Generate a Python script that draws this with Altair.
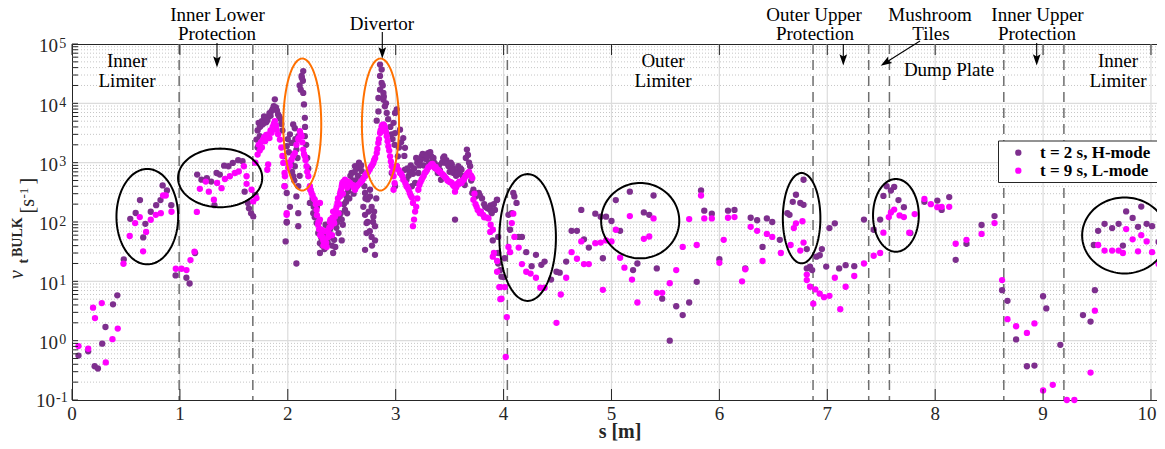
import math
import numpy as np
import pandas as pd
import altair as alt

SERIF = "Liberation Serif"
PURPLE = "#7E2F8E"
MAGENTA = "#FF00FF"
AXIS_COL = "#262626"

# ---------------- data ----------------
H_S = [0.06, 0.15, 0.21, 0.24, 0.28, 0.31, 0.38, 0.42, 0.48, 0.54, 0.59, 0.63, 0.66, 0.68, 0.73, 0.78, 0.82, 0.84, 0.88, 0.92,
       0.96, 1.06, 1.09, 1.14, 1.16, 1.20, 1.25, 1.29, 1.32, 1.34, 1.37, 1.41, 1.45, 1.49, 1.54, 1.58, 1.60, 1.63, 1.64, 1.66,
       1.68, 1.70, 1.71, 1.73, 1.75, 1.76, 1.79, 1.80, 1.82, 1.84, 1.85, 1.87, 1.88, 1.89, 1.91, 1.93, 1.94, 1.97, 1.99, 1.99,
       1.98, 1.96, 1.99, 2.02, 2.035, 2.05, 2.05, 2.065, 2.065, 2.08, 2.08, 2.08, 2.097, 2.097, 2.097, 2.097, 2.12, 2.128, 2.13, 2.143,
       2.143, 2.15, 2.158, 2.158, 2.02, 1.99,
       2.205, 2.236, 2.25, 2.267, 2.27, 2.282, 2.298, 2.298, 2.30, 2.33, 2.35, 2.36, 2.39, 2.40, 2.42, 2.44, 2.45, 2.47, 2.48, 2.50,
       2.50, 2.52, 2.53, 2.545, 2.55, 2.56, 2.576, 2.592, 2.60, 2.61, 2.623, 2.64, 2.65, 2.67, 2.685, 2.69, 2.70, 2.716, 2.716, 2.716,
       2.73, 2.73, 2.74, 2.75, 2.762, 2.762, 2.777, 2.777, 2.79, 2.793, 2.808, 2.808, 2.808,
       2.824, 2.84, 2.84, 2.855, 2.855, 2.855, 2.87, 2.87, 2.88, 2.886, 2.886, 2.89, 2.90, 2.91, 2.917, 2.93, 2.95, 2.96, 2.963, 2.97,
       2.98, 2.99, 2.994, 2.994, 2.994, 3.01, 3.01, 3.02, 3.03, 3.04, 3.07, 3.086, 3.086, 3.10, 3.12, 3.14, 3.15, 3.18, 3.20, 3.21,
       3.23, 3.24, 3.26, 3.27, 3.28, 3.30, 3.31, 3.33, 3.34, 3.36, 3.37, 3.39, 3.40, 3.42, 3.43, 3.45, 3.47, 3.49, 3.50, 3.52,
       3.53, 3.535, 3.55, 3.56, 3.58, 3.59, 3.61, 3.63, 3.64, 3.66, 3.67, 3.69, 3.71, 3.74, 3.77, 3.80, 3.83, 3.876, 3.94, 3.90,
       3.95, 3.97, 4.00,
       # extra points of the dense divertor band
       1.72, 1.74, 1.77, 1.78, 1.81, 1.83, 1.86, 1.90, 1.92, 1.95, 1.72, 1.74,
       2.00, 2.01, 2.03, 2.04, 2.06, 2.07, 2.09, 2.11, 2.11, 2.14, 2.16, 2.17, 2.18, 2.19, 2.21, 2.23,
       2.24, 2.26, 2.29, 2.31, 2.32, 2.34, 2.37, 2.38, 2.41, 2.43, 2.46, 2.49, 2.51, 2.54, 2.57, 2.58, 2.62, 2.63, 2.66, 2.68,
       2.71, 2.72, 2.74, 2.76, 2.78, 2.80, 2.82,
       3.05, 3.08, 3.11, 3.13, 3.16, 3.17, 3.19, 3.22, 3.25, 3.29, 3.32, 3.35, 3.38, 3.41, 3.44, 3.46, 3.48, 3.51, 3.54, 3.57,
       3.60, 3.62, 3.65, 3.68, 3.70, 3.72, 3.75, 3.78, 3.82, 3.85, 3.88, 3.91,
       # outer wall
       3.937, 3.92, 3.89, 3.95, 3.95, 3.98, 4.01, 4.045, 4.09, 4.10, 4.12, 4.076, 4.06, 4.14, 4.17, 4.21, 4.26, 4.30, 4.35, 4.38,
       4.44, 4.49, 4.52, 4.58, 4.63, 4.68, 4.72, 4.745, 4.79, 4.85, 4.90, 4.92, 4.95, 5.00, 5.04, 5.08, 5.17, 5.20, 5.24, 5.30,
       5.35, 5.39, 5.42, 5.47, 5.54, 5.60, 5.66, 5.72, 5.79, 5.83, 5.86, 5.93, 6.00,
       6.08, 6.14, 6.24, 6.29, 6.35, 6.40, 6.44, 6.49, 6.56, 6.63, 6.65, 6.68, 6.71, 6.75, 6.78, 6.78, 6.81, 6.81, 6.84, 6.86,
       6.90, 6.93, 6.95, 6.99, 7.02, 7.07, 7.11, 7.17, 7.25, 7.34, 7.43, 7.49, 7.52, 7.55, 7.59, 7.62, 7.66, 7.71, 7.77, 7.90,
       8.02, 8.06, 8.13, 8.19, 8.29, 8.43, 8.55, 8.62, 8.67, 8.75, 8.85, 8.92, 9.00, 9.03, 9.16, 9.37, 9.44, 9.48, 9.47, 9.51,
       9.57, 9.64, 9.70, 9.74, 9.77, 9.83, 9.88, 9.91, 9.96, 10.01, 10.07, 10.12]
H_V = [0.56, 0.66, 0.37, 0.34, 0.89, 1.7, 4.1, 5.8, 23.5, 113, 142, 234, 55, 93, 149, 192, 234, 414, 340, 192,
       12.6, 11.5, 9.2, 30, 630, 517, 550, 480, 192, 670, 630, 890, 870, 990, 1100, 1060, 325, 209, 170, 140,
       124, 287, 2450, 4700, 4200, 5000, 5300, 4800, 5900, 6200, 7400, 9000, 11700, 8500, 6500, 5500, 4500, 400, 308, 98,
       47, 1280, 1900, 3000, 2150, 4400, 590, 3800, 870, 1660, 270, 20, 2800, 400, 141, 85, 17000, 29000, 27000, 35000,
       15000, 9600, 5700, 2800, 180, 100,
       210, 141, 120, 96, 180, 65, 44, 30, 75, 60, 90, 49, 74, 55, 30, 38, 80, 65, 120, 49,
       110, 200, 160, 270, 140, 330, 400, 670, 500, 300, 870, 800, 600, 870, 720, 550, 180, 308, 132, 34,
       96, 65, 240, 150, 270, 350, 180, 56, 100, 123, 85, 49, 28,
       5100, 12300, 7300, 45000, 29000, 17000, 37000, 22000, 20000, 15000, 11500, 13000, 8900, 10000, 6900, 5400, 4000, 3000, 670, 2500,
       4700, 2000, 6900, 3150, 400, 7900, 870, 1280, 1800, 3600, 2600, 1780, 760, 515, 600, 900, 400, 455, 1000, 670,
       1100, 1280, 900, 1350, 1150, 1450, 1000, 1280, 1100, 990, 800, 670, 900, 515, 1000, 1280, 1100, 870, 700, 930,
       800, 670, 110, 600, 870, 650, 760, 500, 420, 1660, 1350, 870, 308, 270, 308, 250, 180, 160, 237, 49,
       30, 15.5, 11.8,
       3500, 4000, 4500, 6000, 5200, 6800, 8000, 7500, 6000, 3500, 1800, 2800,
       2500, 1500, 1000, 700, 500, 2500, 1200, 600, 20000, 24000, 4000, 2000, 1200, 800, 350, 250,
       180, 130, 100, 55, 40, 35, 45, 60, 40, 50, 100, 140, 90, 220, 250, 600, 700, 500, 1000, 900,
       400, 250, 100, 70, 40, 150, 250,
       2200, 1300, 800, 700, 650, 800, 1200, 900, 1400, 1300, 1500, 1200, 850, 750, 1200, 1000, 950, 1000, 750, 700,
       800, 600, 1200, 1000, 500, 350, 300, 280, 200, 170, 190, 200,
       234, 160, 141, 56, 20, 12, 24.5, 132, 308, 270, 210, 141, 74, 56, 56, 31, 18, 28, 19, 21.5,
       10.7, 14.5, 14, 21.5, 71, 71, 160, 51, 37, 138, 123, 24.5, 123, 104, 234, 71, 325, 15.5, 20, 145,
       132, 280, 16.5, 5.1, 1.0, 3.8, 2.7, 4.4, 9.8, 340, 155, 138, 23.6,
       155, 160, 16.5, 118, 107, 38, 115, 100, 50, 141, 132, 219, 288, 209, 195, 515, 35, 16.5, 17.7, 15.5,
       26, 27.5, 35, 17.7, 79, 95, 16.5, 18.7, 18, 110, 74, 110, 275, 400, 340, 390, 234, 178, 65, 219,
       230, 160, 263, 23, 43, 89, 126, 7.1, 4.7, 1.05, 0.37, 0.38, 5.6, 3.5, 0.85, 2.7, 2.1, 7.1, 41, 71,
       93, 79, 93, 40, 151, 117, 83, 182, 93, 85, 46, 2.1]

L_S = [0.06, 0.15, 0.195, 0.213, 0.276, 0.313, 0.375, 0.424, 0.477, 0.535, 0.585, 0.628, 0.659, 0.687, 0.73, 0.777, 0.823, 0.844, 0.869, 0.922,
       0.962, 1.015, 1.061, 1.098, 1.135, 1.157, 1.185, 1.24, 1.268, 1.315, 1.345, 1.386, 1.417, 1.463, 1.51, 1.546, 1.593, 1.618, 1.618, 1.664,
       1.68, 1.71, 1.72, 1.73, 1.77, 1.80, 1.818, 1.81, 1.85, 1.88, 1.896, 1.927, 1.958, 1.973, 1.989,
       1.97, 1.97, 1.99, 2.004, 2.035, 2.065, 2.097, 2.112, 2.128, 2.143, 2.158, 2.174, 2.19, 2.205, 2.22, 2.25, 2.298,
       2.267, 2.28, 2.298, 2.31, 2.313, 2.329, 2.34, 2.35, 2.36, 2.375, 2.38, 2.39, 2.40, 2.41, 2.42, 2.43, 2.437, 2.452, 2.46, 2.47,
       2.483, 2.49, 2.50, 2.51, 2.52, 2.53, 2.55, 2.576, 2.60, 2.623, 2.64, 2.67, 2.69, 2.716, 2.73, 2.747, 2.77, 2.793, 2.81, 2.824,
       2.839, 2.855, 2.87, 2.886, 2.90, 2.917, 2.932, 2.948, 2.963, 2.98, 2.98, 3.01, 3.04, 3.06, 3.07, 3.09, 3.10, 3.12, 3.13, 3.15,
       3.16, 3.17, 3.16, 3.19, 3.21, 3.22, 3.24, 3.26, 3.27, 3.29, 3.30, 3.32, 3.33, 3.35, 3.36, 3.38, 3.39, 3.41, 3.42, 3.44,
       3.45, 3.47, 3.49, 3.50, 3.52, 3.54, 3.55, 3.58, 3.61, 3.63, 3.65, 3.67, 3.69, 3.71, 3.72, 3.75, 3.78, 3.81, 3.86, 3.876,
       3.90, 3.90, 3.94, 3.97, 3.97, 4.03, 4.02,
       # extra points of the dense divertor band
       1.70, 1.74, 1.75, 1.76, 1.78, 1.79, 1.82, 1.83, 1.84, 1.86, 1.87, 1.89, 1.91, 1.94, 1.95,
       2.01, 2.02, 2.05, 2.08, 2.10, 2.12, 2.135, 2.15, 2.165, 2.18, 2.21, 2.23, 2.24, 2.26, 2.27,
       2.285, 2.29, 2.30, 2.32, 2.33, 2.345, 2.355, 2.37, 2.385, 2.395, 2.405, 2.415, 2.425, 2.445, 2.455, 2.465, 2.475, 2.485, 2.495, 2.505,
       2.515, 2.535, 2.545, 2.56, 2.585, 2.61, 2.63, 2.65, 2.68, 2.70, 2.72, 2.74, 2.76, 2.78, 2.80, 2.83, 2.845, 2.86, 2.875, 2.895,
       2.91, 2.925, 2.94, 2.955, 2.97, 2.99, 3.00, 3.03, 3.05,
       3.11, 3.14, 3.18, 3.20, 3.23, 3.25, 3.28, 3.31, 3.34, 3.37, 3.40, 3.43, 3.46, 3.48, 3.51, 3.53, 3.56, 3.57, 3.59, 3.60,
       3.62, 3.64, 3.66, 3.68, 3.70, 3.73, 3.74, 3.76, 3.79, 3.82, 3.84, 3.88,
       # outer wall
       3.91, 3.94, 3.96, 3.98, 4.01, 4.045, 4.06, 4.076, 4.09, 4.10, 4.14, 4.17, 4.21, 4.25, 4.30, 4.34, 4.38, 4.49, 4.53, 4.58,
       4.63, 4.68, 4.72, 4.745, 4.79, 4.85, 4.90, 4.92, 4.95, 5.00, 5.04, 5.08, 5.12, 5.17, 5.19, 5.24, 5.30, 5.35, 5.39, 5.42,
       5.47, 5.54, 5.60, 5.66, 5.72, 5.79, 5.83, 5.86, 5.93, 6.00,
       6.04, 6.08, 6.14, 6.21, 6.24, 6.29, 6.35, 6.40, 6.44, 6.49, 6.57, 6.66, 6.69, 6.71, 6.77, 6.78, 6.75, 6.81, 6.81, 6.84,
       6.89, 6.93, 6.97, 7.02, 6.87, 7.07, 7.12, 7.17, 7.25, 7.34, 7.43, 7.49, 7.52, 7.57, 7.59, 7.62, 7.67, 7.71, 7.76, 7.81,
       7.90, 7.96, 8.02, 8.06, 8.13, 8.19, 8.29, 8.43, 8.55, 8.62, 8.67, 8.75, 8.85, 8.92, 9.00, 9.09, 9.22, 9.29, 9.44, 9.48,
       9.51, 9.57, 9.64, 9.70, 9.74, 9.77, 9.83, 9.88, 9.91, 9.96, 10.01, 10.07, 10.12]
L_V = [0.81, 0.73, 3.6, 2.4, 4.3, 0.43, 1.06, 1.6, 19.8, 58, 96, 121, 32, 68, 109, 132, 141, 280, 280, 149,
       16.3, 16.3, 15.5, 22.8, 31.6, 148, 362, 480, 325, 237, 455, 372, 530, 590, 670, 710, 870, 590, 440, 350,
       222, 253, 1370, 2000, 2450, 2950, 930, 760, 3200, 5000, 3600, 2450, 990, 590, 132,
       670, 400, 141, 820, 1120, 1450, 2450, 3390, 2800, 1660, 1280, 870, 590, 400, 308, 237, 210,
       160, 90, 110, 60, 74, 49, 45, 70, 38, 56, 65, 100, 85, 60, 150, 95, 123, 180, 210, 140,
       270, 330, 400, 300, 420, 515, 380, 455, 420, 350, 400, 455, 500, 590, 650, 720, 850, 990, 1200, 1450,
       2150, 3150, 4100, 4400, 3800, 2800, 1900, 1280, 870, 590, 350, 870, 670, 600, 515, 450, 400, 350, 308, 260,
       210, 110, 85, 180, 350, 420, 515, 600, 670, 750, 820, 880, 930, 900, 820, 780, 760, 700, 670, 620,
       590, 540, 490, 470, 455, 400, 325, 430, 455, 515, 600, 670, 620, 550, 237, 180, 141, 132, 115, 68,
       74, 26, 22, 8, 5, 2.5, 0.53,
       1000, 1600, 2200, 1800, 2700, 2300, 3000, 2600, 3500, 4000, 4500, 4200, 3000, 1800, 1300,
       1000, 900, 1300, 2000, 2600, 3000, 2200, 1400, 1100, 700, 350, 280, 250, 200, 130,
       100, 75, 60, 55, 40, 50, 45, 70, 80, 110, 95, 120, 100, 160, 140, 250, 200, 300, 350, 450,
       480, 450, 420, 480, 430, 380, 380, 420, 480, 540, 620, 680, 780, 900, 1100, 1700, 2500, 3500, 4300, 4200,
       3300, 2300, 1600, 1050, 700, 450, 800, 750, 650,
       380, 280, 150, 250, 470, 560, 700, 850, 950, 850, 720, 640, 560, 500, 470, 420, 380, 440, 480, 460,
       500, 560, 640, 700, 600, 300, 200, 160, 150, 120, 120, 90,
       30, 14.5, 8, 5.1, 8, 38, 31, 96, 138, 56, 37, 19.5, 14.5, 13.5, 11.5, 7.8, 7.8, 2.0, 6.0, 11.5,
       31, 24, 47, 19.5, 19.5, 44, 45, 7.2, 49, 47, 74, 25, 17, 126, 10.7, 4.4, 52, 57, 115, 6.4,
       6.4, 9.3, 15.5, 38, 112, 41, 280, 115, 115, 20.5,
       50, 118, 121, 10, 16, 83, 71, 22, 63, 56, 30, 41, 79, 95, 103, 45, 33, 10.5, 13, 8.1,
       7.3, 6.2, 5.4, 5.7, 4.2, 11.5, 3.4, 8.1, 12.3, 20, 27, 30, 66, 121, 145, 162, 129, 121, 66, 136,
       245, 200, 178, 180, 180, 43, 50, 63, 96, 10.5, 2.3, 1.75, 1.35, 1.95, 0.145, 0.18, 0.1, 0.1, 0.29, 3.2,
       41, 33, 33, 33, 30, 76, 51, 32, 60, 47, 31, 19.5, 2.9]

# region boundaries (dashed lines), s [m]
BOUNDARIES = [0.993, 1.676, 4.035, 6.868, 7.384, 7.576, 8.636, 9.193]

# highlight ellipses: centre s, centre log10(v), half-width in s, half-height in decades, colour
ELL_S = [0.698, 1.373, 2.134, 2.859, 4.223, 5.266, 6.762, 7.636, 9.756]
ELL_LOGV = [2.09, 2.743, 3.643, 3.643, 1.739, 2.022, 2.064, 2.112, 1.773]
ELL_RS = [0.286, 0.39, 0.176, 0.172, 0.262, 0.362, 0.174, 0.212, 0.394]
ELL_RLOG = [0.804, 0.494, 1.112, 1.112, 1.069, 0.635, 0.761, 0.613, 0.64]
ELL_COLOR = ["black", "black", "#FF7000", "#FF7000", "black", "black", "black", "black", "black"]

X_TICKS = list(range(0, 11))
Y_EXPONENTS = [-1, 0, 1, 2, 3, 4, 5]

LEGEND_LABELS = ["t = 2 s, H-mode", "t = 9 s, L-mode"]

# ---------------- layout ----------------
W, H = 1093, 356
OX, OY = 72, 44          # page position of the plot origin (8px page margin + padding)
S_MAX = 10.13
PT = 40

x_scale = alt.Scale(domain=[0, S_MAX], nice=False, zero=False)
y_scale = alt.Scale(type="log", domain=[0.1, 1e5], nice=False)


def XE(f="s"):
    return alt.X(f"{f}:Q", scale=x_scale, axis=None)


def YE(f="v"):
    return alt.Y(f"{f}:Q", scale=y_scale, axis=None)


DUMMY = pd.DataFrame({"d": [0]})


def ptext(text, px, py, size=19, weight="normal", align="center", angle=0, style="normal", color="black"):
    return alt.Chart(DUMMY).mark_text(
        text=text, font=SERIF, fontSize=size, fontWeight=weight, fontStyle=style,
        align=align, baseline="alphabetic", angle=angle, color=color
    ).encode(x=alt.value(px - OX), y=alt.value(py - OY))


layers = []

# grid
minor_y = [m * 10.0 ** k for k in range(-1, 5) for m in range(2, 10)]
layers.append(alt.Chart(pd.DataFrame({"v": minor_y})).mark_rule(
    color="#b8b8b8", strokeDash=[1, 2], strokeWidth=0.8).encode(y=YE(), x=alt.value(0), x2=alt.value(W)))
layers.append(alt.Chart(pd.DataFrame({"v": [10.0 ** k for k in range(0, 5)]})).mark_rule(
    color="#dcdcdc", strokeWidth=1.2).encode(y=YE(), x=alt.value(0), x2=alt.value(W)))
layers.append(alt.Chart(pd.DataFrame({"s": X_TICKS[1:]})).mark_rule(
    color="#dcdcdc", strokeWidth=1.2).encode(x=XE(), y=alt.value(0), y2=alt.value(H)))

# dashed region boundaries
layers.append(alt.Chart(pd.DataFrame({"s": BOUNDARIES})).mark_rule(
    color="#6e6e6e", strokeDash=[10, 6], strokeWidth=1.5).encode(x=XE(), y=alt.value(0), y2=alt.value(H)))

# data points
layers.append(alt.Chart(pd.DataFrame({"s": H_S, "v": H_V})).mark_circle(
    size=PT, opacity=1, color=PURPLE).encode(x=XE(), y=YE()))
layers.append(alt.Chart(pd.DataFrame({"s": L_S, "v": L_V})).mark_circle(
    size=PT, opacity=1, color=MAGENTA).encode(x=XE(), y=YE()))

# ellipses
tt = np.linspace(0, 2 * np.pi, 121)
rows = []
for k, (cs, cl, rs, rl, col) in enumerate(zip(ELL_S, ELL_LOGV, ELL_RS, ELL_RLOG, ELL_COLOR)):
    for i, t in enumerate(tt):
        rows.append({"id": k, "i": i, "s": cs + rs * math.cos(t), "v": 10 ** (cl + rl * math.sin(t)), "col": col})
layers.append(alt.Chart(pd.DataFrame(rows)).mark_line(strokeWidth=2, clip=True).encode(
    x=XE(), y=YE(), detail="id:N", order="i:Q", color=alt.Color("col:N", scale=None)))

# ticks (inward, MATLAB style)
xt = pd.DataFrame({"s": X_TICKS})
layers.append(alt.Chart(xt).mark_rule(color=AXIS_COL, strokeWidth=1).encode(x=XE(), y=alt.value(H), y2=alt.value(H - 11)))
layers.append(alt.Chart(xt).mark_rule(color=AXIS_COL, strokeWidth=1).encode(x=XE(), y=alt.value(0), y2=alt.value(11)))
yt = pd.DataFrame({"v": [10.0 ** e for e in Y_EXPONENTS] + minor_y})
layers.append(alt.Chart(yt).mark_rule(color=AXIS_COL, strokeWidth=1).encode(y=YE(), x=alt.value(0), x2=alt.value(6)))
layers.append(alt.Chart(yt).mark_rule(color=AXIS_COL, strokeWidth=1).encode(y=YE(), x=alt.value(W - 6), x2=alt.value(W)))

# x tick labels (the last one nudged so it stays inside the page)
xl = pd.DataFrame({"s": X_TICKS[:-1], "t": [str(v) for v in X_TICKS[:-1]]})
layers.append(alt.Chart(xl).mark_text(
    font=SERIF, fontSize=19, color=AXIS_COL, baseline="alphabetic", align="center").encode(
    x=XE(), y=alt.value(H + 20), text="t:N"))
xl_last = pd.DataFrame({"s": X_TICKS[-1:], "t": [str(v) for v in X_TICKS[-1:]]})
layers.append(alt.Chart(xl_last).mark_text(
    font=SERIF, fontSize=19, color=AXIS_COL, baseline="alphabetic", align="center", dx=-4).encode(
    x=XE(), y=alt.value(H + 20), text="t:N"))

# y tick labels 10^k
pos = [e for e in Y_EXPONENTS if e >= 0]
neg = [e for e in Y_EXPONENTS if e < 0]
dpos = pd.DataFrame({"v": [10.0 ** e for e in pos], "b": ["10"] * len(pos), "e": [str(e) for e in pos]})
dneg = pd.DataFrame({"v": [10.0 ** e for e in neg], "b": ["10"] * len(neg), "e": [str(e) for e in neg]})
layers.append(alt.Chart(dpos).mark_text(font=SERIF, fontSize=19, color=AXIS_COL, align="right", baseline="alphabetic", dy=8.3)
              .encode(y=YE(), x=alt.value(-14), text="b:N"))
layers.append(alt.Chart(dpos).mark_text(font=SERIF, fontSize=14, color=AXIS_COL, align="left", baseline="alphabetic", dy=3.5)
              .encode(y=YE(), x=alt.value(-12.8), text="e:N"))
layers.append(alt.Chart(dneg).mark_text(font=SERIF, fontSize=19, color=AXIS_COL, align="right", baseline="alphabetic", dy=6.5)
              .encode(y=YE(), x=alt.value(-17), text="b:N"))
layers.append(alt.Chart(dneg).mark_text(font=SERIF, fontSize=14, color=AXIS_COL, align="left", baseline="alphabetic", dy=1.5)
              .encode(y=YE(), x=alt.value(-16), text="e:N"))

# axis titles
layers.append(ptext("s [m]", 620, 438, size=20, weight="bold", color=AXIS_COL))
layers.append(ptext("\u03bd", 22.5, 279, size=20, style="italic", align="left", angle=270, color=AXIS_COL))
layers.append(ptext("t", 28, 263.5, size=14, weight="bold", align="left", angle=270, color=AXIS_COL))
layers.append(ptext("BULK", 22, 257, size=14, weight="bold", align="left", angle=270, color=AXIS_COL))
layers.append(ptext("[s", 33.5, 213.5, size=20, align="left", angle=270, color=AXIS_COL))
layers.append(ptext("-1", 27.5, 198.5, size=13, align="left", angle=270, color=AXIS_COL))
layers.append(ptext("]", 33.5, 184.5, size=20, align="left", angle=270, color=AXIS_COL))

# region labels
REGION_TEXT = [("Inner", 127, 67), ("Limiter", 127, 87),
               ("Inner Lower", 217.5, 20.5), ("Protection", 217, 40),
               ("Divertor", 382, 30),
               ("Outer", 663, 67), ("Limiter", 663, 87),
               ("Outer Upper", 814, 20.5), ("Protection", 815, 40),
               ("Mushroom", 930, 20.5), ("Tiles", 931, 40),
               ("Dump Plate", 949, 76),
               ("Inner Upper", 1037.5, 20.5), ("Protection", 1037, 40),
               ("Inner", 1118, 67), ("Limiter", 1118, 87)]
for txt, px, py in REGION_TEXT:
    layers.append(ptext(txt, px, py))

# arrows
ARROWS = [(217, 43, 217, 67.5), (382.3, 32, 382.3, 58.5), (843.3, 44, 843.3, 65.5),
          (920, 41, 880.7, 65.7), (1036.7, 43, 1036.7, 65.5)]
HEAD = "M0,1L-0.55,-0.6L0,-0.3L0.55,-0.6Z"
R = 7.0
for x0, y0, x1, y1 in ARROWS:
    dx, dy = x1 - x0, y1 - y0
    L = math.hypot(dx, dy)
    ux, uy = dx / L, dy / L
    ang = (math.degrees(math.atan2(dy, dx)) - 90) % 360
    layers.append(alt.Chart(DUMMY).mark_rule(color="black", strokeWidth=1.1).encode(
        x=alt.value(x0 - OX), y=alt.value(y0 - OY),
        x2=alt.value(x1 - ux * R - OX), y2=alt.value(y1 - uy * R - OY)))
    layers.append(alt.Chart(DUMMY).mark_point(shape=HEAD, filled=True, size=(2 * R) ** 2, angle=ang,
                                             color="black", opacity=1, strokeWidth=0).encode(
        x=alt.value(x1 - ux * R - OX), y=alt.value(y1 - uy * R - OY)))

# legend
layers.append(alt.Chart(DUMMY).mark_rect(fill="white", stroke=AXIS_COL, strokeWidth=1).encode(
    x=alt.value(998.5 - OX), x2=alt.value(1160 - OX), y=alt.value(141 - OY), y2=alt.value(182.5 - OY)))
for col, yy, lab in [(PURPLE, 152.7, LEGEND_LABELS[0]), (MAGENTA, 170.7, LEGEND_LABELS[1])]:
    layers.append(alt.Chart(DUMMY).mark_circle(size=PT, opacity=1, color=col).encode(
        x=alt.value(1018.3 - OX), y=alt.value(yy - OY)))
    layers.append(ptext(lab, 1040, yy + 5.5, size=17, weight="bold", align="left"))

chart = alt.layer(*layers).properties(
    width=W, height=H,
    padding={"left": 64, "top": 36, "right": -8, "bottom": 48},
    autosize=alt.AutoSizeParams(type="none"),
    background="white",
).configure_view(stroke=AXIS_COL, strokeWidth=1)

chart.save("out.html", embed_options={"renderer": "svg", "actions": False})
